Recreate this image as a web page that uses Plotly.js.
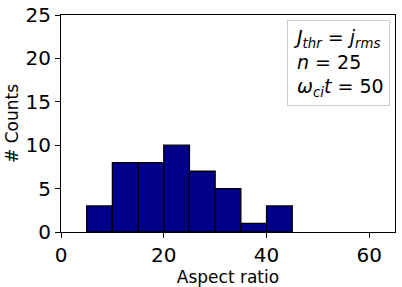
<!DOCTYPE html>
<html>
<head>
<meta charset="utf-8">
<script src="https://cdn.plot.ly/plotly-3.0.1.min.js"></script>
<style>
  html, body { margin: 0; padding: 0; background: #fff; }
  #hist { width: 402px; height: 287px; }
</style>
</head>
<body>
<div id="hist"></div>
<script>
// histogram bins (left edges) and counts
binLeft = [5, 10, 15, 20, 25, 30, 35, 40]
binWidth = 5
counts = [3, 8, 8, 10, 7, 5, 1, 3]
xTicks = [0, 20, 40, 60]
yTicks = [0, 5, 10, 15, 20, 25]

centers = binLeft.map(function(b){ return b + binWidth/2 })

var data = [{
  type: "bar",
  x: centers,
  y: counts,
  width: binWidth,
  marker: {color: "#00008b", line: {color: "#000", width: 1.3}},
  hoverinfo: "none"
}]

var tickfont = {family: "DejaVu Sans", size: 20, color: "#000"}

var layout = {
  width: 402, height: 287,
  margin: {l: 61, r: 7, t: 15, b: 55},
  paper_bgcolor: "#fff",
  plot_bgcolor: "#fff",
  showlegend: false,
  bargap: 0,
  xaxis: {
    range: [0, 65],
    tickvals: xTicks,
    ticks: "outside", ticklen: 5, tickcolor: "#000",
    showgrid: false, zeroline: false,
    showline: true, linecolor: "#000", linewidth: 1, mirror: true,
    tickfont: tickfont,
    title: {text: "Aspect ratio", font: {family: "DejaVu Sans", size: 17, color: "#000"}, standoff: 4}
  },
  yaxis: {
    range: [0, 25],
    tickvals: yTicks,
    ticks: "outside", ticklen: 5, tickcolor: "#000",
    showgrid: false, zeroline: false,
    showline: true, linecolor: "#000", linewidth: 1, mirror: true,
    tickfont: tickfont,
    title: {text: "# Counts", font: {family: "DejaVu Sans", size: 17, color: "#000"}, standoff: 2}
  },
  annotations: [{
    xref: "paper", yref: "paper",
    x: 0.985, y: 0.975, xanchor: "right", yanchor: "top",
    align: "left", showarrow: false,
    text: "<i>J</i><sub><i>thr</i></sub> = <i>j</i><sub><i>rms</i></sub><br><i>n</i> = 25<br><i>ω</i><sub><i>ci</i></sub><i>t</i> = 50",
    font: {family: "DejaVu Sans", size: 19, color: "#000"},
    bgcolor: "rgba(255,255,255,0.8)",
    bordercolor: "#cccccc", borderwidth: 1, borderpad: 5
  }]
}

Plotly.newPlot("hist", data, layout, {staticPlot: true})
</script>
</body>
</html>
